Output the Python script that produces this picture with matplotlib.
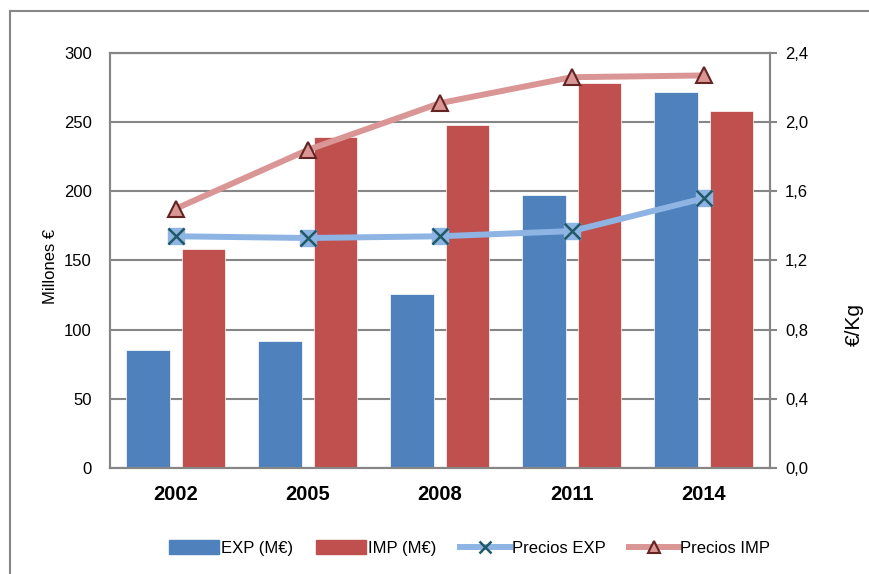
import matplotlib.pyplot as plt
import matplotlib.patches as mpatches
from matplotlib.lines import Line2D
import numpy as np

plt.rcParams['font.family'] = ['Liberation Sans', 'DejaVu Sans']

# datos
anios = ["2002", "2005", "2008", "2011", "2014"]
exp_me = [85, 92, 126, 197, 272]
imp_me = [158, 239, 248, 278, 258]
precios_exp = [1.34, 1.33, 1.34, 1.37, 1.56]
precios_imp = [1.50, 1.84, 2.11, 2.26, 2.27]

c_exp = "#4F81BD"
c_imp = "#C0504D"
c_pexp = "#8EB4E3"
c_pimp = "#D99694"
gris = "#868686"

fig = plt.figure(figsize=(8.7, 5.74), dpi=100)
ax = fig.add_axes([0.1264, 0.1847, 0.885 - 0.1264, 0.9077 - 0.1847])

# marco exterior (solo bordes izquierdo y superior visibles)
xb, yb = 10.5 / 870, 1 - 11 / 574
fig.add_artist(Line2D([xb, xb], [0, yb], transform=fig.transFigure, color=gris, lw=1.5))
fig.add_artist(Line2D([xb, 1], [yb, yb], transform=fig.transFigure, color=gris, lw=1.5))

x = np.arange(len(anios))
w = 0.33
ax.bar(x - 0.21, exp_me, w, color=c_exp, edgecolor="white", lw=0.5, zorder=2)
ax.bar(x + 0.21, imp_me, w, color=c_imp, edgecolor="white", lw=0.5, zorder=2)

ax.set_xlim(-0.5, len(anios) - 0.5)
ax.set_ylim(0, 300)
ax.set_yticks(range(0, 301, 50))
ax.yaxis.grid(True, color=gris, lw=1.5)
ax.set_axisbelow(True)
ax.set_xticks(x)
ax.set_xticklabels(anios, fontsize=14.5, fontweight="bold")
ax.tick_params(axis="x", length=0, pad=12)
ax.tick_params(axis="y", length=0, pad=13, labelsize=12)
for s in ax.spines.values():
    s.set_color(gris)
    s.set_linewidth(1.5)
ax.set_ylabel("Millones €", fontsize=12)
ax.yaxis.set_label_coords(-0.079, 0.485)

ax2 = ax.twinx()
ax2.plot(x, precios_exp, color=c_pexp, lw=4.3, zorder=3)
ax2.plot(x, precios_exp, ls="none", marker="s", ms=12, mfc=c_pexp, mec=c_pexp, zorder=4)
ax2.plot(x, precios_exp, ls="none", marker="x", ms=11, mec="#215968", mew=1.8, zorder=5)
ax2.plot(x, precios_imp, color=c_pimp, lw=4.3, marker="^", ms=12,
         mfc=c_pimp, mec="#632523", mew=1.5, zorder=3)
ax2.set_ylim(0, 2.4)
ax2.set_yticks(np.arange(0, 2.41, 0.4))
ax2.set_yticklabels([f"{v:.1f}".replace(".", ",") for v in np.arange(0, 2.41, 0.4)])
ax2.tick_params(axis="y", length=5, width=1.5, color=gris, pad=6, labelsize=12)
for s in ax2.spines.values():
    s.set_color(gris)
    s.set_linewidth(1.5)
ax2.set_ylabel("€/Kg", fontsize=15)
ax2.yaxis.set_label_coords(1.114, 0.345)

handles = [
    mpatches.Patch(color=c_exp),
    mpatches.Patch(color=c_imp),
    (Line2D([], [], color=c_pexp, lw=4.3),
     Line2D([], [], ls="none", marker="x", ms=9, mec="#215968", mew=1.8)),
    Line2D([], [], color=c_pimp, lw=4.3, marker="^", ms=9, mfc=c_pimp,
           mec="#632523", mew=1.5),
]
labels = ["EXP (M€)", "IMP (M€)", "Precios EXP", "Precios IMP"]
fig.legend(handles, labels, loc="center", bbox_to_anchor=(0.54, 0.045), ncol=4,
           frameon=False, fontsize=12, handlelength=3.0, handleheight=0.85,
           handletextpad=0.1, columnspacing=1.4)

fig.savefig("out.png", dpi=100)
